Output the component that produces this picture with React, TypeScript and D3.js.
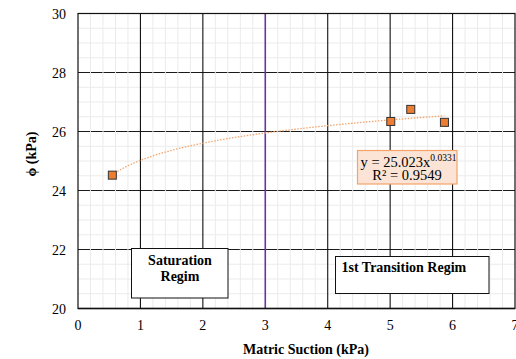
import React from "react";
import * as d3 from "d3";

const suction = [0.55, 5.01, 5.33, 5.87];
const phi = [24.52, 26.34, 26.75, 26.31];
const xTicks = [0, 1, 2, 3, 4, 5, 6, 7];
const yTicks = [20, 22, 24, 26, 28, 30];
const fitA = 25.023;
const fitB = 0.0331;
const boundaryX = 3;

const W = 516, H = 359;
const M = { left: 78, right: 515, top: 13.5, bottom: 308.5 };
const FONT = "Liberation Serif, Times New Roman, Times, DejaVu Serif, serif";

export default function App() {
  const x = d3.scaleLinear().domain([0, 7]).range([M.left, M.right]);
  const y = d3.scaleLinear().domain([20, 30]).range([M.bottom, M.top]);
  const minorX = d3.range(0, 7.001, 0.2).filter((v) => Math.abs(v - Math.round(v)) > 1e-6);
  const minorY = d3.range(20, 30.001, 0.5).filter((v) => Math.abs(v / 2 - Math.round(v / 2)) > 1e-6);
  const fitXs = d3.range(0, 101).map((i) => suction[0] + (i / 100) * (suction[3] - suction[0]));
  const fitLine = d3
    .line<number>()
    .x((d) => x(d))
    .y((d) => y(fitA * Math.pow(d, fitB)))(fitXs);
  const ts = { fontFamily: FONT };

  return (
    <svg width={W} height={H} style={{ position: "absolute", left: 0, top: 0, fontFamily: FONT }}>
      <rect width={W} height={H} fill="#fff" />
      {minorY.map((v) => (
        <line key={"my" + v} x1={M.left} x2={M.right} y1={y(v)} y2={y(v)} stroke="#ebebeb" strokeWidth={1} />
      ))}
      {yTicks.slice(1, -1).map((v) => (
        <line key={"gy" + v} x1={M.left} x2={M.right} y1={y(v)} y2={y(v)} stroke="#1a1a1a" strokeWidth={1.1} />
      ))}
      {minorX.map((v) => (
        <line key={"mx" + v} x1={x(v)} x2={x(v)} y1={M.top} y2={M.bottom} stroke="#ebebeb" strokeWidth={1} />
      ))}
      {xTicks.slice(1, -1).map((v) =>
        v === boundaryX ? null : (
          <line key={"gx" + v} x1={x(v)} x2={x(v)} y1={M.top} y2={M.bottom} stroke="#111" strokeWidth={1.1} />
        )
      )}
      <line x1={x(boundaryX)} x2={x(boundaryX)} y1={M.top} y2={M.bottom} stroke="#7030a0" strokeWidth={1.6} />
      <rect x={M.left} y={M.top} width={M.right - M.left} height={M.bottom - M.top} fill="none" stroke="#111" strokeWidth={1.2} />
      <line x1={M.left} x2={M.right} y1={M.bottom} y2={M.bottom} stroke="#111" strokeWidth={1.6} />

      {xTicks.map((v) => (
        <text key={"xt" + v} x={x(v)} y={330} textAnchor="middle" fontSize={14} style={ts}>
          {v}
        </text>
      ))}
      {yTicks.map((v) => (
        <text key={"yt" + v} x={66} y={y(v) + 5} textAnchor="end" fontSize={14} style={ts}>
          {v}
        </text>
      ))}
      <text x={306} y={354} textAnchor="middle" fontSize={14} fontWeight="bold" style={ts}>
        Matric Suction (kPa)
      </text>
      <text transform={`translate(36,${154}) rotate(-90)`} textAnchor="middle" fontSize={14} fontWeight="bold" style={ts}>
        ϕ (kPa)
      </text>

      <path d={fitLine || ""} fill="none" stroke="#f4a46a" strokeWidth={1.3} strokeDasharray="1.5 1.5" />
      {suction.map((s, i) => (
        <rect key={"p" + i} x={x(s) - 4} y={y(phi[i]) - 4} width={8} height={8} fill="#ed7d31" stroke="#333" strokeWidth={1} />
      ))}

      <rect x={357.5} y={150.5} width={99.5} height={33.5} fill="#fbe4d5" stroke="#f4a46a" strokeWidth={1.2} />
      <text x={360.5} y={166.5} fontSize={14.5} style={ts}>
        y = 25.023x<tspan dy={-5.5} fontSize={9.5}>0.0331</tspan>
      </text>
      <text x={407} y={180} textAnchor="middle" fontSize={14.5} style={ts}>
        R² = 0.9549
      </text>

      <rect x={131.5} y={248.5} width={96.5} height={49.5} fill="#fff" stroke="#111" strokeWidth={1} />
      <text x={180} y={265} textAnchor="middle" fontSize={14} fontWeight="bold" style={ts}>Saturation</text>
      <text x={180} y={281} textAnchor="middle" fontSize={14} fontWeight="bold" style={ts}>Regim</text>

      <rect x={335.5} y={256.5} width={153.5} height={37} fill="#fff" stroke="#111" strokeWidth={1} />
      <text x={341.5} y={272} fontSize={14} fontWeight="bold" style={ts}>1st Transition Regim</text>
    </svg>
  );
}
